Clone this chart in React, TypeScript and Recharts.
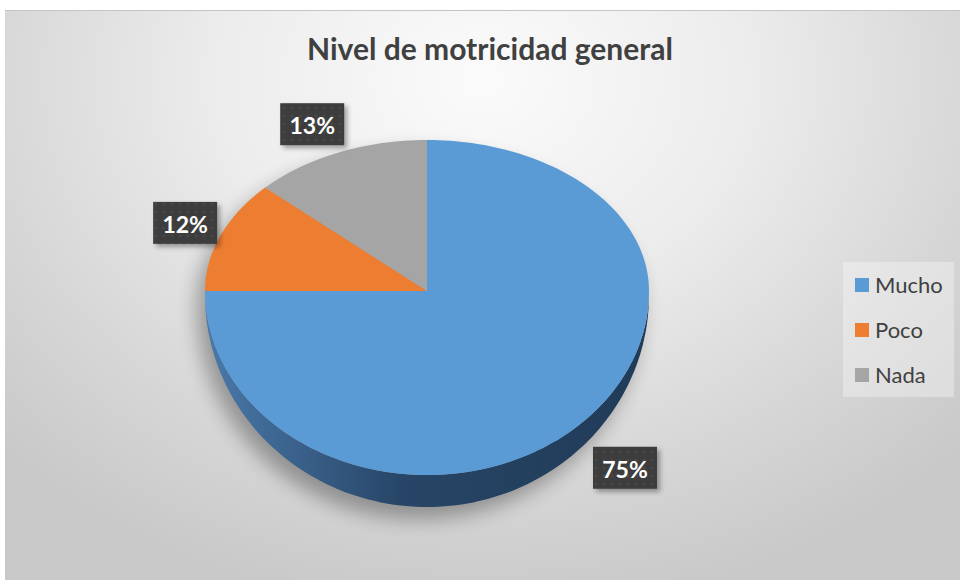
import React from 'react';
import { PieChart, Pie, Cell, Legend } from 'recharts';

const categories = ['Mucho', 'Poco', 'Nada'];
const percentages = [75, 12, 13];
const colors = ['#5b9bd5', '#ed7d31', '#a5a5a5'];

const data = categories.map((name, i) => ({ name, value: percentages[i] }));

// 3D look: pie top is squashed, the front half a bit more than the back (perspective)
const SY_TOP = 151 / 222;
const SY_BOTTOM = 184 / 222;
const RAD = Math.PI / 180;
const FONT = 'Lato, "Open Sans", sans-serif';

const project = (cx: number, cy: number, r: number, deg: number) => {
  const s = Math.sin(deg * RAD);
  const sy = s > 0 ? SY_TOP : SY_BOTTOM;
  return [cx + r * Math.cos(deg * RAD), cy - r * s * sy];
};

const depthAt = (deg: number) => 4 + 28 * Math.max(0, -Math.sin(deg * RAD));

const arcPoints = (cx: number, cy: number, r: number, from: number, to: number, drop = false) => {
  const pts: number[][] = [];
  const steps = Math.max(2, Math.ceil(Math.abs(to - from) / 1.5));
  for (let i = 0; i <= steps; i++) {
    const a = from + ((to - from) * i) / steps;
    const [x, y] = project(cx, cy, r, a);
    pts.push([x, drop ? y + depthAt(a) : y]);
  }
  return pts;
};

const toPath = (pts: number[][]) => pts.map((p, i) => `${i ? 'L' : 'M'}${p[0].toFixed(1)},${p[1].toFixed(1)}`).join('') + 'Z';

const PieShape = (props: any) => {
  const { cx, cy, outerRadius, startAngle, endAngle, fill, index } = props;
  const top = toPath([[cx, cy], ...arcPoints(cx, cy, outerRadius, startAngle, endAngle)]);

  // front side (angles in the lower half)
  const lo = Math.max(Math.min(startAngle, endAngle), -180);
  const hi = Math.min(Math.max(startAngle, endAngle), 0);
  let side = null;
  if (hi > lo) {
    const upper = arcPoints(cx, cy, outerRadius, lo, hi);
    const lower = arcPoints(cx, cy, outerRadius, hi, lo, true);
    side = toPath([...upper, ...lower]);
  }

  const shadow = index === 0
    ? toPath([
        ...arcPoints(cx, cy, outerRadius, 0, 180),
        ...arcPoints(cx, cy, outerRadius, 180, 360, true),
      ])
    : null;

  return (
    <g>
      <defs>
        <linearGradient id={`side${index}`} x1="0" y1="0" x2="1" y2="0">
          <stop offset="0%" stopColor="#4a79aa" />
          <stop offset="45%" stopColor="#274566" />
          <stop offset="100%" stopColor="#203b58" />
        </linearGradient>
        <filter id="pieShadow" x="-20%" y="-20%" width="140%" height="140%">
          <feGaussianBlur stdDeviation="10" />
        </filter>
      </defs>
      {shadow && (
        <path d={shadow} fill="#000" opacity={0.32} transform="translate(-8,12)" filter="url(#pieShadow)" />
      )}
      {side && <path d={side} fill={`url(#side${index})`} />}
      <path d={top} fill={fill} />
    </g>
  );
};

const renderLabel = (props: any) => {
  const { cx, cy, midAngle, percent } = props;
  const s = Math.sin(midAngle * RAD);
  const c = Math.cos(midAngle * RAD);
  const x = cx + (290 - 40 * Math.pow(c, 4)) * c;
  const y = cy - s * (s > 0 ? 185 : 250) + (s > 0.8 ? 3 : 0);
  const w = 64;
  const h = 42;
  return (
    <g>
      <defs>
        <filter id="boxShadow" x="-30%" y="-30%" width="160%" height="160%">
          <feDropShadow dx="3" dy="3" stdDeviation="2.5" floodColor="#000" floodOpacity="0.35" />
        </filter>
        <pattern id="dots" width="8" height="8" patternUnits="userSpaceOnUse">
          <rect width="8" height="8" fill="#3d3d3d" />
          <circle cx="4" cy="4" r="1.3" fill="#4a4a4a" />
        </pattern>
      </defs>
      <rect x={x - w / 2} y={y - h / 2} width={w} height={h} fill="url(#dots)" filter="url(#boxShadow)" />
      <text
        x={x}
        y={y + 1}
        textAnchor="middle"
        dominantBaseline="central"
        fill="#ffffff"
        fontFamily={FONT}
        fontWeight={700}
        fontSize={23}
      >
        {`${Math.round(percent * 100)}%`}
      </text>
    </g>
  );
};

const renderLegend = (props: any) => {
  const payload = [...(props.payload || [])].sort(
    (a: any, b: any) => categories.indexOf(a.value) - categories.indexOf(b.value)
  );
  return (
    <div style={{ width: 111, height: 135, background: 'rgba(255,255,255,0.32)', boxSizing: 'border-box' }}>
      {payload.map((entry: any) => (
        <div
          key={entry.value}
          style={{ height: 45, display: 'flex', alignItems: 'center', paddingLeft: 12 }}
        >
          <span style={{ width: 14, height: 14, background: entry.color, display: 'inline-block', marginRight: 6 }} />
          <span style={{ fontFamily: FONT, fontSize: 22, color: '#404040' }}>{entry.value}</span>
        </div>
      ))}
    </div>
  );
};

export default function App() {
  return (
    <div style={{ position: 'absolute', left: 0, top: 0, width: 960, height: 580, background: '#ffffff', overflow: 'hidden' }}>
      <div
        style={{
          position: 'absolute',
          left: 5,
          top: 10,
          width: 955,
          height: 570,
          borderTop: '1px solid #c4c4c4',
          boxSizing: 'border-box',
          background: 'radial-gradient(ellipse 70% 95% at 50% 12%, #fbfbfb 0%, #ececec 40%, #d6d6d6 75%, #c8c8c8 100%)',
        }}
      />
      <div
        style={{
          position: 'absolute',
          left: 5,
          top: 26,
          width: 970,
          textAlign: 'center',
          fontFamily: FONT,
          fontWeight: 700,
          fontSize: 30,
          lineHeight: '44px',
          color: '#404040',
        }}
      >
        Nivel de motricidad general
      </div>
      <div style={{ position: 'absolute', left: 0, top: 0 }}>
        <PieChart width={960} height={580} margin={{ top: 0, right: 0, bottom: 0, left: 0 }}>
          <Pie
            data={data}
            dataKey="value"
            nameKey="name"
            cx={427}
            cy={291}
            outerRadius={222}
            startAngle={90}
            endAngle={-270}
            stroke="none"
            shape={PieShape}
            label={renderLabel}
            labelLine={false}
            isAnimationActive={false}
          >
            {data.map((d, i) => (
              <Cell key={d.name} fill={colors[i]} />
            ))}
          </Pie>
          <Legend
            layout="vertical"
            align="right"
            verticalAlign="top"
            content={renderLegend}
            wrapperStyle={{ position: 'absolute', left: 843, top: 262, width: 111, height: 135 }}
          />
        </PieChart>
      </div>
    </div>
  );
}
